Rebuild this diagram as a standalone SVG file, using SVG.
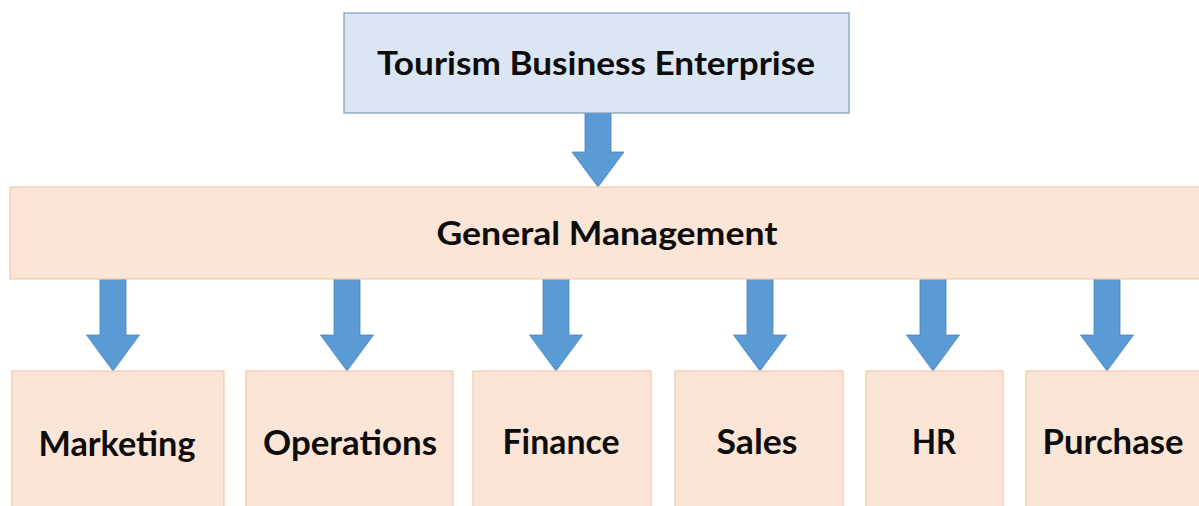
<svg xmlns="http://www.w3.org/2000/svg" width="1199" height="506" viewBox="0 0 1199 506">
<defs>
<style>
.top{fill:#dce6f2;stroke:#7e9cbc;stroke-width:1.2}
.box{fill:#fbe5d6;stroke:#f3c9a8;stroke-width:1.2}
.arr{fill:#5b9bd5;stroke:#4a84bb;stroke-width:0.8}
.t{font-family:Lato,"Open Sans","Liberation Sans",sans-serif;font-weight:bold;fill:#0d0d0d;text-anchor:middle}
.big{font-size:33px}
.sm{font-size:35px}
</style>
</defs>
<rect width="1199" height="506" fill="#ffffff"/>
<g id="connectors">
<path class="arr" d="M585,113 H611 V152 H624 L598,187 L572,152 H585 Z"/>
<path class="arr" d="M100,279 H126 V335 H139.5 L113,371 L86.5,335 H100 Z"/>
<path class="arr" d="M334,279 H360 V335 H373.5 L347,371 L320.5,335 H334 Z"/>
<path class="arr" d="M543,279 H569 V335 H582.5 L556,371 L529.5,335 H543 Z"/>
<path class="arr" d="M747,279 H773 V335 H786.5 L760,371 L733.5,335 H747 Z"/>
<path class="arr" d="M920,279 H946 V335 H959.5 L933,371 L906.5,335 H920 Z"/>
<path class="arr" d="M1094,279 H1120 V335 H1133.5 L1107,371 L1080.5,335 H1094 Z"/>
</g>
<g id="node-tourism">
<rect class="top" x="344" y="13" width="505" height="100"/>
<text class="t big" x="596" y="75" textLength="438" lengthAdjust="spacingAndGlyphs">Tourism Business Enterprise</text>
</g>
<g id="node-general">
<rect class="box" x="10" y="187" width="1200" height="92"/>
<text class="t big" x="607" y="245" textLength="341" lengthAdjust="spacingAndGlyphs">General Management</text>
</g>
<g id="node-marketing">
<rect class="box" x="12" y="371" width="212" height="150"/>
<text class="t sm" x="117" y="456" textLength="157" lengthAdjust="spacingAndGlyphs">Marketing</text>
</g>
<g id="node-operations">
<rect class="box" x="246" y="371" width="207" height="150"/>
<text class="t sm" x="350" y="455" textLength="174" lengthAdjust="spacingAndGlyphs">Operations</text>
</g>
<g id="node-finance">
<rect class="box" x="473" y="371" width="178" height="150"/>
<text class="t sm" x="561" y="454" textLength="117" lengthAdjust="spacingAndGlyphs">Finance</text>
</g>
<g id="node-sales">
<rect class="box" x="675" y="371" width="168" height="150"/>
<text class="t sm" x="757" y="454" textLength="81" lengthAdjust="spacingAndGlyphs">Sales</text>
</g>
<g id="node-hr">
<rect class="box" x="866" y="371" width="137" height="150"/>
<text class="t sm" x="934" y="454" textLength="44" lengthAdjust="spacingAndGlyphs">HR</text>
</g>
<g id="node-purchase">
<rect class="box" x="1026" y="371" width="190" height="150"/>
<text class="t sm" x="1113" y="454" textLength="141" lengthAdjust="spacingAndGlyphs">Purchase</text>
</g>
</svg>
